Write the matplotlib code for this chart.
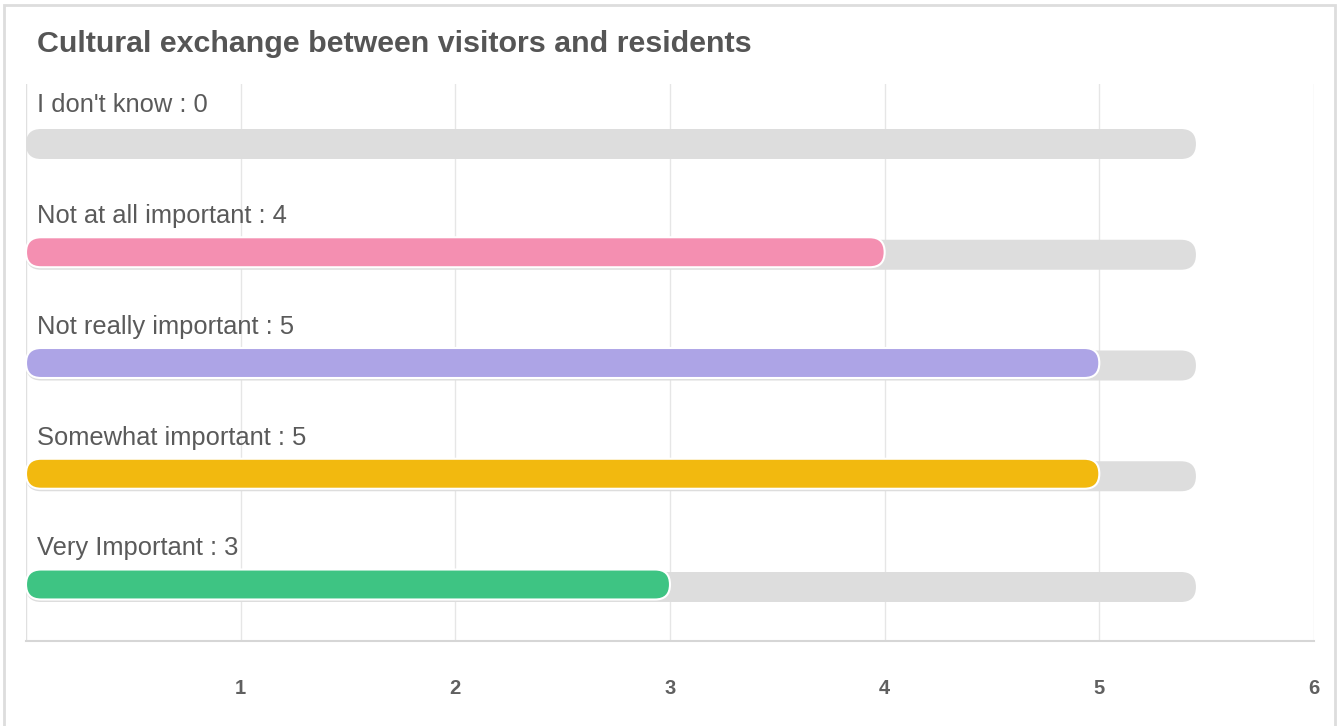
import numpy as np
import matplotlib
matplotlib.use("Agg")
import matplotlib.pyplot as plt
from matplotlib.patches import FancyBboxPatch, Rectangle

plt.rcParams['font.family'] = ['Liberation Sans', 'DejaVu Sans']

title = "Cultural exchange between visitors and residents"
categories = ["I don't know", "Not at all important", "Not really important",
              "Somewhat important", "Very Important"]
values = [0, 4, 5, 5, 3]
colors = ["#f48fb1", "#f48fb1", "#ada4e6", "#f2b90f", "#3ec483"]
track_max = 5.45
xticks = [1, 2, 3, 4, 5, 6]

W, H = 1338, 726
fig = plt.figure(figsize=(W / 100, H / 100), dpi=100)

# card border
fig.patches.append(Rectangle((4 / W, -0.01), (1331 / W), (721 / H) + 0.01,
                             transform=fig.transFigure, fill=False,
                             edgecolor="#dddddd", linewidth=2))
fig.text(37 / W, 1 - 43.5 / H, title, fontsize=21.9, fontweight="bold",
         color="#555555", ha="left", va="center")

# axes in pixel layout
left, right, top, bottom = 26, 1314, 84, 641
ax = fig.add_axes([left / W, 1 - bottom / H, (right - left) / W, (bottom - top) / H])
ax.set_xlim(0, 6)
step = 110.75
y0 = 144
ax.set_ylim((bottom - y0) / step, (top - y0) / step)

xpp = 6 / (right - left)          # data per pixel in x
ypp = 1 / step                    # data per pixel in y
bar_h = 30 * ypp
r = 15 * xpp
aspect = ypp / xpp

for xv in xticks:
    ax.axvline(xv, color="#e6e6e6", linewidth=1, zorder=0)
ax.axvline(0, color="#e0e0e0", linewidth=1, zorder=0)

for i, (cat, v, c) in enumerate(zip(categories, values, colors)):
    # grey track
    tr = FancyBboxPatch((0, i - bar_h / 2), track_max, bar_h,
                        boxstyle=f"round,pad=0,rounding_size={r}",
                        mutation_aspect=aspect, facecolor="#dddddd",
                        edgecolor="none", zorder=1)
    ax.add_patch(tr)
    if v > 0:
        b = FancyBboxPatch((0, i - bar_h / 2 - 2.5 * ypp), v, bar_h,
                           boxstyle=f"round,pad=0,rounding_size={r}",
                           mutation_aspect=aspect, facecolor=c,
                           edgecolor="white", linewidth=1.5, zorder=2)
        ax.add_patch(b)
    ax.text(11 * xpp, i - 38.5 * ypp, f"{cat} : {v}", fontsize=18.4,
            color="#5a5a5a", ha="left", va="center", zorder=3)

ax.set_xticks(xticks)
ax.set_xticklabels([str(t) for t in xticks], fontsize=14.5, fontweight="bold",
                   color="#606060")
ax.tick_params(axis="x", length=0, pad=27)
ax.set_yticks([])
for s in ["top", "right", "left"]:
    ax.spines[s].set_visible(False)
ax.spines["bottom"].set_color("#d6d6d6")
ax.spines["bottom"].set_linewidth(1.5)

fig.savefig("out.png", dpi=100)
